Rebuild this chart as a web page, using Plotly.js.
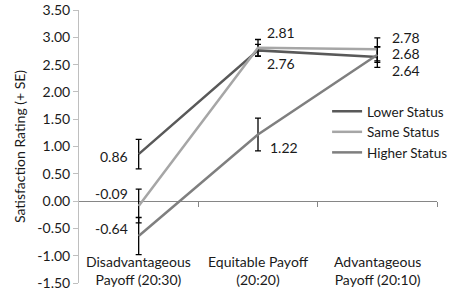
<!DOCTYPE html>
<html><head><meta charset="utf-8">
<script src="https://cdn.plot.ly/plotly-3.0.1.min.js"></script>
<style>html,body{margin:0;padding:0;background:#fff}#c{width:454px;height:292px}</style>
</head><body><div id="c"></div>
<script>
const categories = ["Disadvantageous<br>Payoff (20:30)", "Equitable Payoff<br>(20:20)", "Advantageous<br>Payoff (20:10)"];
const seriesNames = ["Lower Status", "Same Status", "Higher Status"];
const lowerStatus = [0.86, 2.76, 2.64];
const sameStatus = [-0.09, 2.81, 2.78];
const higherStatus = [-0.64, 1.22, 2.68];
const lowerSE = [0.27, 0.11, 0.19];
const sameSE = [0.31, 0.15, 0.21];
const higherSE = [0.34, 0.30, 0.14];
const yTicks = [-1.5, -1.0, -0.5, 0, 0.5, 1.0, 1.5, 2.0, 2.5, 3.0, 3.5];

const FONT = "Lato, 'Liberation Sans', sans-serif";
const colors = ["#595959", "#a6a6a6", "#7f7f7f"];
const values = [lowerStatus, sameStatus, higherStatus];
const ses = [lowerSE, sameSE, higherSE];
const xIdx = [0, 1, 2];

const traces = values.map((v, i) => ({
  type: "scatter", mode: "lines", name: seriesNames[i],
  x: xIdx, y: v,
  line: {color: colors[i], width: 2.5},
  error_y: {type: "data", array: ses[i], visible: true, color: "#000", thickness: 1.3, width: 3},
  hoverinfo: "skip"
}));
// invisible trace for the boundary ticks on the zero line
traces.push({type: "scatter", x: [0.5, 2.5], y: [0, 0], xaxis: "x2", mode: "none", showlegend: false, hoverinfo: "skip"});

// label offsets per series (rows) and category (columns): [xshift, yshift(up +), xanchor]
const labelStyle = [
  [[-9, -2, "right"], [7, -13, "left"], [13, -14, "left"]],
  [[-9, 13, "right"], [7, 15, "left"], [13, 12, "left"]],
  [[-9, 8, "right"], [10, -13, "left"], [13, 1, "left"]]
];
const annotations = [];
values.forEach((v, i) => {
  v.forEach((val, j) => {
    const s = labelStyle[i][j];
    annotations.push({x: j, y: val, xref: "x", yref: "y", text: val.toFixed(2),
      showarrow: false, xanchor: s[2], yanchor: "middle", xshift: s[0], yshift: s[1],
      font: {family: FONT, size: 14, color: "#1a1a1a"}});
  });
});
categories.forEach((c, j) => {
  annotations.push({x: j, y: -1.5, xref: "x", yref: "y", text: c, showarrow: false,
    xanchor: "center", yanchor: "bottom", yshift: -7,
    font: {family: FONT, size: 14, color: "#1a1a1a"}});
});

const layout = {
  width: 454, height: 292,
  margin: {l: 79, r: 17, t: 10, b: 9, autoexpand: false},
  paper_bgcolor: "#fff", plot_bgcolor: "#fff",
  font: {family: FONT, size: 14, color: "#1a1a1a"},
  showlegend: true,
  legend: {x: 0.693, y: 0.685, xanchor: "left", yanchor: "top", bgcolor: "rgba(0,0,0,0)",
    font: {family: FONT, size: 13.5, color: "#1a1a1a"}, tracegroupgap: 0},
  xaxis: {range: [-0.5, 2.5], showticklabels: false, showgrid: false, zeroline: false,
    showline: false, ticks: "", fixedrange: true},
  xaxis2: {overlaying: "x", anchor: "free", position: 0.3, range: [-0.5, 2.5],
    tickvals: [0.5, 1.5, 2.5], ticks: "outside", ticklen: 5, tickcolor: "#868686",
    showticklabels: false, showgrid: false, zeroline: false, showline: false},
  yaxis: {range: [-1.5, 3.5], tickvals: yTicks, ticktext: yTicks.map(t => t.toFixed(2)),
    showgrid: false, zeroline: true, zerolinecolor: "#868686", zerolinewidth: 1.2,
    showline: true, linecolor: "#bfbfbf", linewidth: 1, ticks: "outside", ticklen: 5,
    tickcolor: "#bfbfbf", tickfont: {family: FONT, size: 14, color: "#1a1a1a"},
    title: {text: "Satisfaction Rating (+ SE)", font: {family: FONT, size: 14, color: "#1a1a1a"}, standoff: 8}},
  annotations: annotations
};
Plotly.newPlot("c", traces, layout, {displayModeBar: false, staticPlot: true});
</script></body></html>
